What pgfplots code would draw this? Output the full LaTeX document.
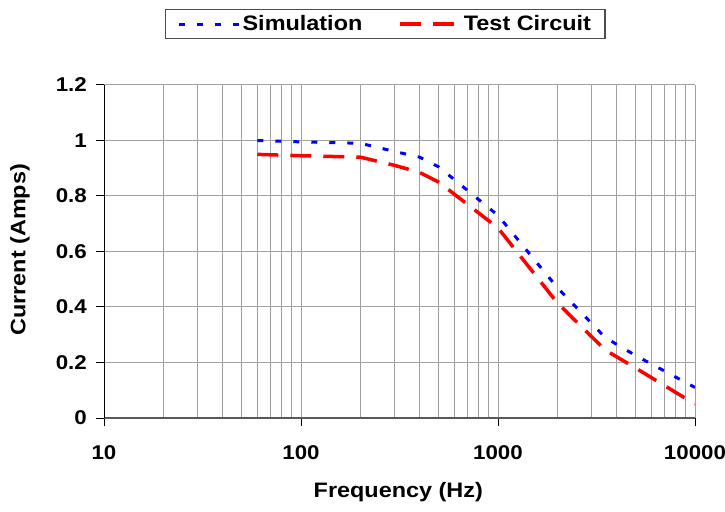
\documentclass[border=0pt]{standalone}
\usepackage{fontspec}
\setmainfont{Liberation Sans}[FakeStretch=1.12]
\usepackage{pgfplots}
\pgfplotsset{compat=1.18}
\definecolor{gridgray}{RGB}{160,160,160}
\begin{document}
\begin{tikzpicture}
\path[use as bounding box] (0,0) rectangle (725bp,512bp);
\begin{axis}[
 at={(104bp,94bp)}, anchor=south west,
 scale only axis, width=591bp, height=333bp,
 xmode=log, xmin=10, xmax=10000, ymin=0, ymax=1.2,
 axis lines=left, axis line style={-},
 x axis line style={draw=black!65, line width=1.5bp},
 y axis line style={draw=black, line width=1bp},
 xtick={10,100,1000,10000}, xticklabels={10,100,1000,10000},
 ytick={0,0.2,0.4,0.6,0.8,1,1.2}, yticklabels={0,0.2,0.4,0.6,0.8,1,1.2},
 tick align=outside, major tick length=8bp, minor tick length=0pt,
 major tick style={draw=black, line width=1bp},
 xmajorgrids, xminorgrids, ymajorgrids,
 grid style={gridgray, line width=1bp},
 minor grid style={gridgray, line width=1bp},
 /pgf/number format/assume math mode=true,
 ticklabel style={font=\fontsize{20}{20}\selectfont\bfseries},
 xticklabel style={anchor=base, yshift=-33bp},
 yticklabel style={anchor=east, inner sep=0pt, xshift=-9bp},
 xlabel={Frequency (Hz)}, ylabel={Current (Amps)},
 label style={font=\fontsize{21}{21}\selectfont\bfseries},
 xlabel style={at={(axis description cs:0.498,-0.222)}, anchor=center},
 ylabel style={at={(axis description cs:-0.142,0.505)}, anchor=center, rotate=0},
 legend style={at={(axis description cs:0.476,1.183)}, anchor=center,
   legend columns=2, draw=black!70, line width=1.2bp,
   font=\fontsize{21}{21}\selectfont\bfseries,
   inner xsep=12bp, inner ysep=4.5bp,
   /tikz/every even column/.append style={column sep=34bp}},
 legend image code/.code={\draw[#1] (0bp,0bp) -- (60bp,0bp);},
]
\addplot[blue, line width=3bp, dash pattern=on 6bp off 12bp] coordinates {
(60,1.0) (100,0.995) (200,0.99) (300,0.96) (400,0.94) (500,0.905)
(1000,0.73) (2000,0.47) (3500,0.29) (5000,0.225) (10000,0.11)};
\addlegendentry{Simulation}
\addplot[red, line width=3.5bp, dash pattern=on 21bp off 12bp] coordinates {
(60,0.95) (100,0.945) (200,0.94) (300,0.91) (400,0.885) (500,0.85)
(1000,0.685) (2000,0.415) (3500,0.245) (5000,0.18) (10000,0.05)};
\addlegendentry{Test Circuit}
\end{axis}
\end{tikzpicture}
\end{document}
